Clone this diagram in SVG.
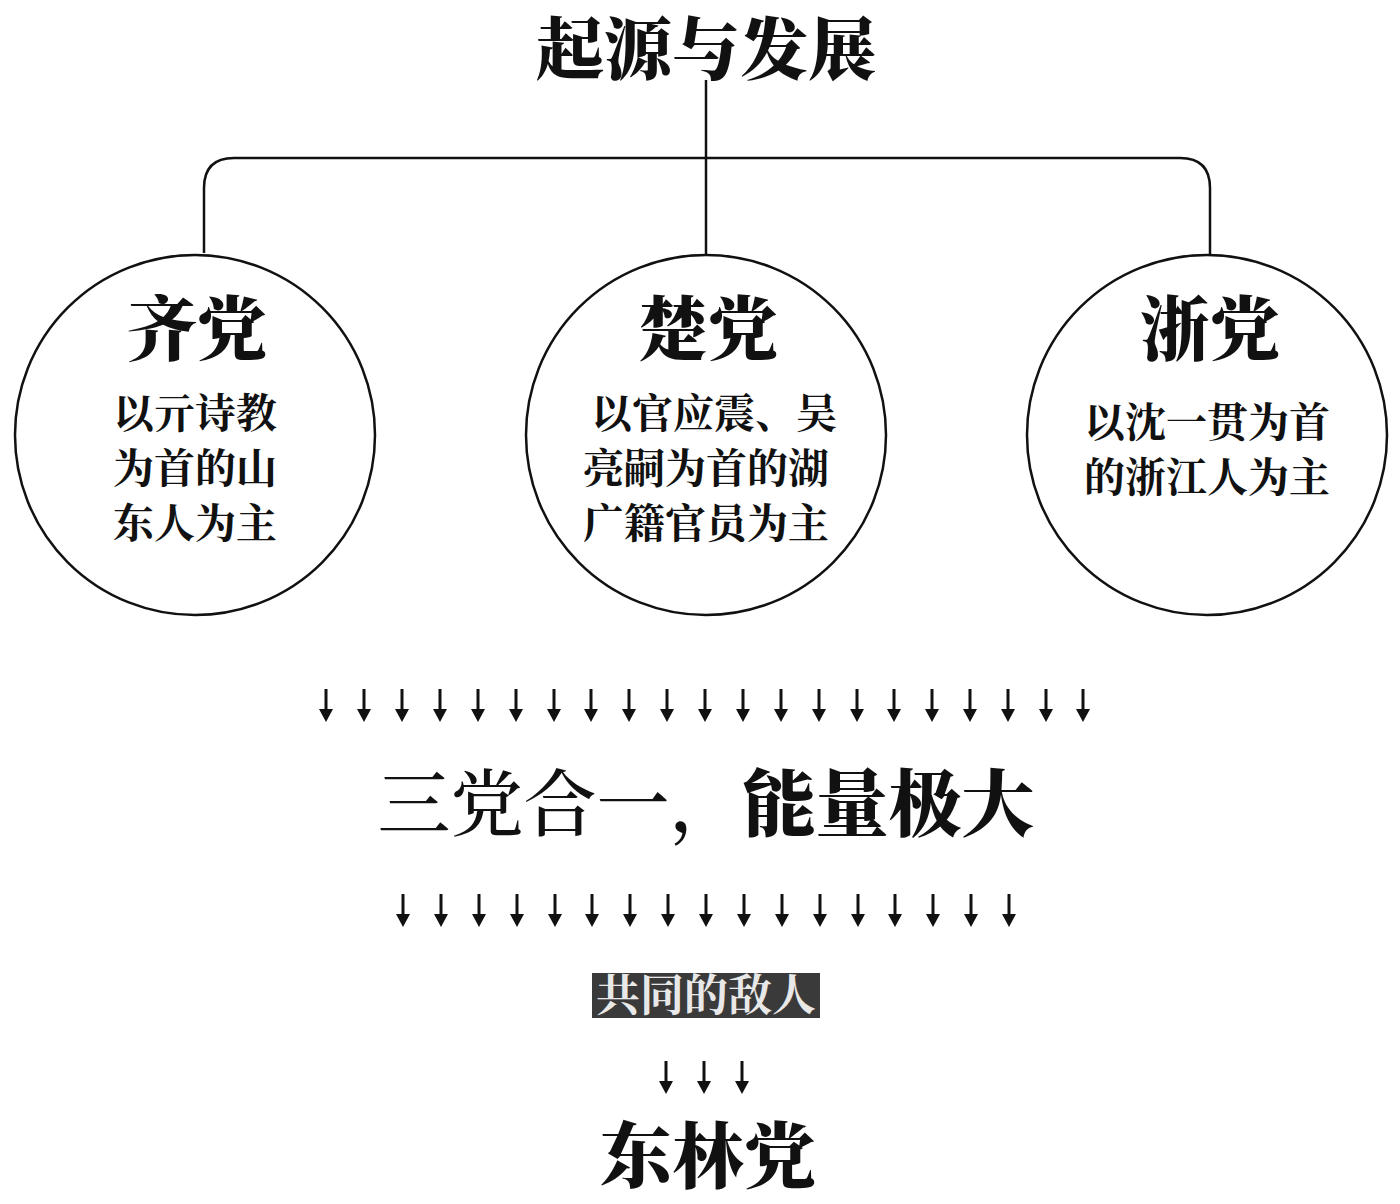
<svg xmlns="http://www.w3.org/2000/svg" width="1400" height="1204" viewBox="0 0 1400 1204">
<defs>
<style>
text{font-family:"Noto Serif CJK SC","Noto Sans CJK SC",serif;text-anchor:middle;fill:#111}
.t{font-size:70px;font-weight:900}
.b{font-size:41px;font-weight:700}
.c{fill:#fff;stroke:#111;stroke-width:2.5}
.ln{fill:none;stroke:#111;stroke-width:2.5}
</style>
<g id="dn"><line x1="0" y1="-17" x2="0" y2="8" stroke="#111" stroke-width="3"/><polygon points="-7,3 7,3 0,16" fill="#111"/></g>
</defs>
<rect width="1400" height="1204" fill="#fff"/>
<g id="connectors">
<path class="ln" d="M706 80 V255"/>
<path class="ln" d="M204 253 V188 Q204 158 234 158 H1180 Q1210 158 1210 188 V255"/>
</g>
<g id="title"><text x="706" y="74" style="font-size:68px;font-weight:900">起源与发展</text></g>
<g id="qi"><circle class="c" cx="195" cy="435" r="180"/><text class="t" x="197" y="355">齐党</text>
<text class="b" x="195" y="428">以亓诗教</text><text class="b" x="195" y="483">为首的山</text><text class="b" x="195" y="538">东人为主</text></g>
<g id="chu"><circle class="c" cx="706" cy="435" r="180"/><text class="t" x="708" y="355">楚党</text>
<text class="b" x="714" y="428">以官应震、吴</text><text class="b" x="706" y="483">亮嗣为首的湖</text><text class="b" x="706" y="538">广籍官员为主</text></g>
<g id="zhe"><circle class="c" cx="1207" cy="435" r="180"/><text class="t" x="1210" y="355">浙党</text>
<text class="b" x="1207" y="437">以沈一贯为首</text><text class="b" x="1207" y="492">的浙江人为主</text></g>
<g id="arrows1">
<use href="#dn" x="326" y="706"/><use href="#dn" x="364" y="706"/><use href="#dn" x="402" y="706"/><use href="#dn" x="440" y="706"/><use href="#dn" x="478" y="706"/><use href="#dn" x="516" y="706"/><use href="#dn" x="554" y="706"/><use href="#dn" x="591" y="706"/><use href="#dn" x="629" y="706"/><use href="#dn" x="667" y="706"/><use href="#dn" x="705" y="706"/><use href="#dn" x="743" y="706"/><use href="#dn" x="781" y="706"/><use href="#dn" x="819" y="706"/><use href="#dn" x="857" y="706"/><use href="#dn" x="894" y="706"/><use href="#dn" x="932" y="706"/><use href="#dn" x="970" y="706"/><use href="#dn" x="1008" y="706"/><use href="#dn" x="1046" y="706"/><use href="#dn" x="1083" y="706"/>
</g>
<g id="merge"><text x="706" y="830" style="font-size:73px;font-weight:900"><tspan style="font-weight:500">三党合一，</tspan>能量极大</text></g>
<g id="arrows2">
<use href="#dn" x="403" y="911"/><use href="#dn" x="441" y="911"/><use href="#dn" x="479" y="911"/><use href="#dn" x="517" y="911"/><use href="#dn" x="555" y="911"/><use href="#dn" x="592" y="911"/><use href="#dn" x="630" y="911"/><use href="#dn" x="668" y="911"/><use href="#dn" x="706" y="911"/><use href="#dn" x="744" y="911"/><use href="#dn" x="782" y="911"/><use href="#dn" x="820" y="911"/><use href="#dn" x="858" y="911"/><use href="#dn" x="895" y="911"/><use href="#dn" x="933" y="911"/><use href="#dn" x="971" y="911"/><use href="#dn" x="1009" y="911"/>
</g>
<g id="enemy"><rect x="592" y="973" width="228" height="45" fill="#3a3a3a"/><text x="706" y="1011" style="font-size:44px;font-weight:700;fill:#e8e8e8">共同的敌人</text></g>
<g id="arrows3"><use href="#dn" x="666" y="1078"/><use href="#dn" x="704" y="1078"/><use href="#dn" x="742" y="1078"/></g>
<g id="donglin"><text x="708" y="1182" style="font-size:72px;font-weight:900">东林党</text></g>
</svg>
